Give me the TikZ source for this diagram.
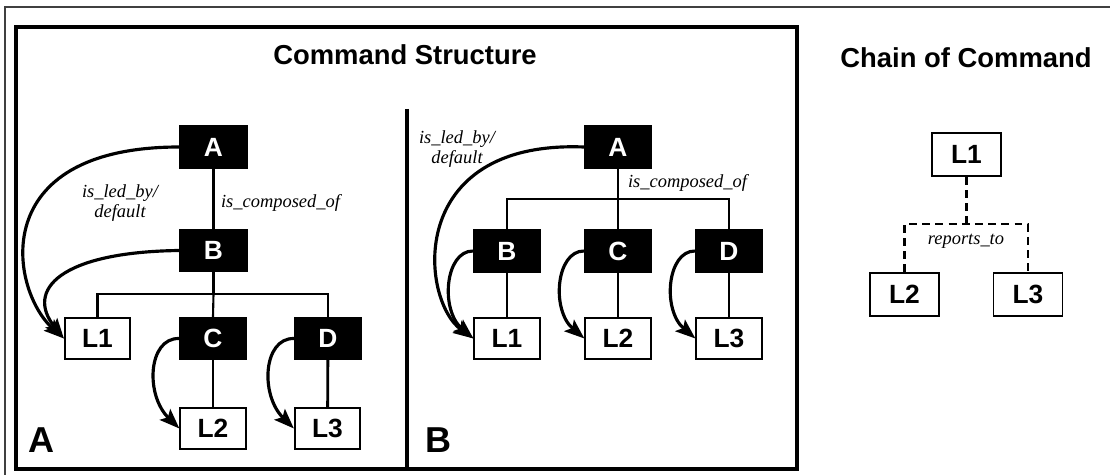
\documentclass[tikz,border=0pt]{standalone}
\usepackage{fontspec}
\setmainfont{Liberation Sans}
\newfontfamily\relfont{Liberation Serif}
\usetikzlibrary{arrows.meta}

\tikzset{
  unit/.style={draw=black, fill=black, text=white, line width=1pt, minimum width=1.33cm, minimum height=0.83cm, inner sep=0pt, font=\fontsize{15}{15}\selectfont\bfseries},
  leader/.style={draw=black, fill=white, line width=1pt, minimum width=1.31cm, minimum height=0.82cm, inner sep=0pt, font=\fontsize{15}{15}\selectfont\bfseries},
  link/.style={line width=1.2pt},
  lead/.style={line width=1.8pt, -{Stealth[length=4mm, width=3mm, inset=0.8mm]}},
  rel/.style={font=\fontsize{10.5}{11.5}\selectfont\relfont\itshape, inner sep=1pt},
  heading/.style={font=\fontsize{15.6}{16}\selectfont\bfseries},
  panel/.style={font=\fontsize{20.5}{21}\selectfont\bfseries}
}

\begin{document}
\begin{tikzpicture}[x=0.02cm, y=-0.02cm]
\useasboundingbox (0,0) rectangle (1110,475);

% Frames
\draw[line width=0.6pt, black!75] (5,475) -- (5,7) -- (1110,7);
\draw[line width=1.8pt] (16,27) rectangle (797,469);
\draw[line width=1.8pt] (407,109) -- (407,469);

% Headings
\node[heading] (cs) at (405,55) {Command Structure};
\node[heading] (cc) at (966,58) {Chain of Command};
\node[panel] (pa) at (42,440) {A};
\node[panel] (pb) at (439,440) {B};

% Define the nodes (panel A)
\node[unit] (Aa) at (213.5,147) {A};
\node[unit] (Ba) at (213.5,250.5) {B};
\node[leader] (L1a) at (97.5,338.5) {L1};
\node[unit] (Ca) at (213,338.5) {C};
\node[unit] (Da) at (328,338.5) {D};
\node[leader] (L2a) at (213,428.5) {L2};
\node[leader] (L3a) at (327.5,428.5) {L3};
\coordinate (busA) at (213.5,294);

% Draw the edges (panel A)
\draw[link, line width=1.6pt] (Aa) -- (Ba);
\draw[link] (Ba) -- (busA);
\draw[link] (L1a.north) |- (busA) -| (Da.north);
\draw[link] (busA) -- (Ca.north);
\draw[link] (Ca) -- (L2a);
\draw[link, line width=1.6pt] (Da) -- (L3a);
\draw[lead] (Aa.west) .. controls (-15,147) and (10,290) .. (L1a.west);
\draw[lead] (Ba.west) .. controls (60,252) and (25,290) .. (L1a.west);
\draw[lead] (Ca.west) .. controls (148,338) and (145,395) .. (L2a.west);
\draw[lead] (Da.west) .. controls (263,338) and (260,395) .. (L3a.west);

% Add labels (panel A)
\node[rel, align=center] (ledA) at (120,203) {is\_led\_by/\\default};
\node[rel, anchor=west] (compA) at (219,203) {is\_composed\_of};

% Define the nodes (panel B)
\node[unit] (Ab) at (618,147) {A};
\node[unit] (Bb) at (507,251) {B};
\node[unit] (Cb) at (618,251) {C};
\node[unit] (Db) at (729,251) {D};
\node[leader] (L1b) at (507,338.5) {L1};
\node[leader] (L2b) at (618,338.5) {L2};
\node[leader] (L3b) at (729,338.5) {L3};
\coordinate (busB) at (618,199);

% Draw the edges (panel B)
\draw[link, line width=1.6pt] (Ab) -- (Cb);
\draw[link] (Bb.north) |- (busB) -| (Db.north);
\draw[link] (Bb) -- (L1b);
\draw[link] (Cb) -- (L2b);
\draw[link, line width=1.6pt] (Db) -- (L3b);
\draw[lead] (Ab.west) .. controls (405,140) and (420,300) .. (L1b.west);
\draw[lead] (Bb.west) .. controls (445,251) and (440,310) .. (L1b.west);
\draw[lead] (Cb.west) .. controls (556,251) and (551,310) .. (L2b.west);
\draw[lead] (Db.west) .. controls (667,251) and (662,310) .. (L3b.west);

% Add labels (panel B)
\node[rel, align=center] (ledB) at (457,149) {is\_led\_by/\\default};
\node[rel, anchor=west] (compB) at (626,183) {is\_composed\_of};

% Chain of command
\node[leader, minimum width=1.38cm, minimum height=0.86cm] (L1c) at (966.5,154.5) {L1};
\node[leader, minimum width=1.38cm, minimum height=0.86cm] (L2c) at (904.5,294.5) {L2};
\node[leader, minimum width=1.38cm, minimum height=0.86cm] (L3c) at (1028,294.5) {L3};
\coordinate (busC) at (966.5,224);
\draw[link, dash pattern=on 4.5pt off 3pt] (L1c) -- (busC);
\draw[link, dash pattern=on 4.5pt off 3pt] (L2c.north) |- (busC) -| (L3c.north);
\node[rel] (rep) at (966,241) {reports\_to};
\end{tikzpicture}
\end{document}
